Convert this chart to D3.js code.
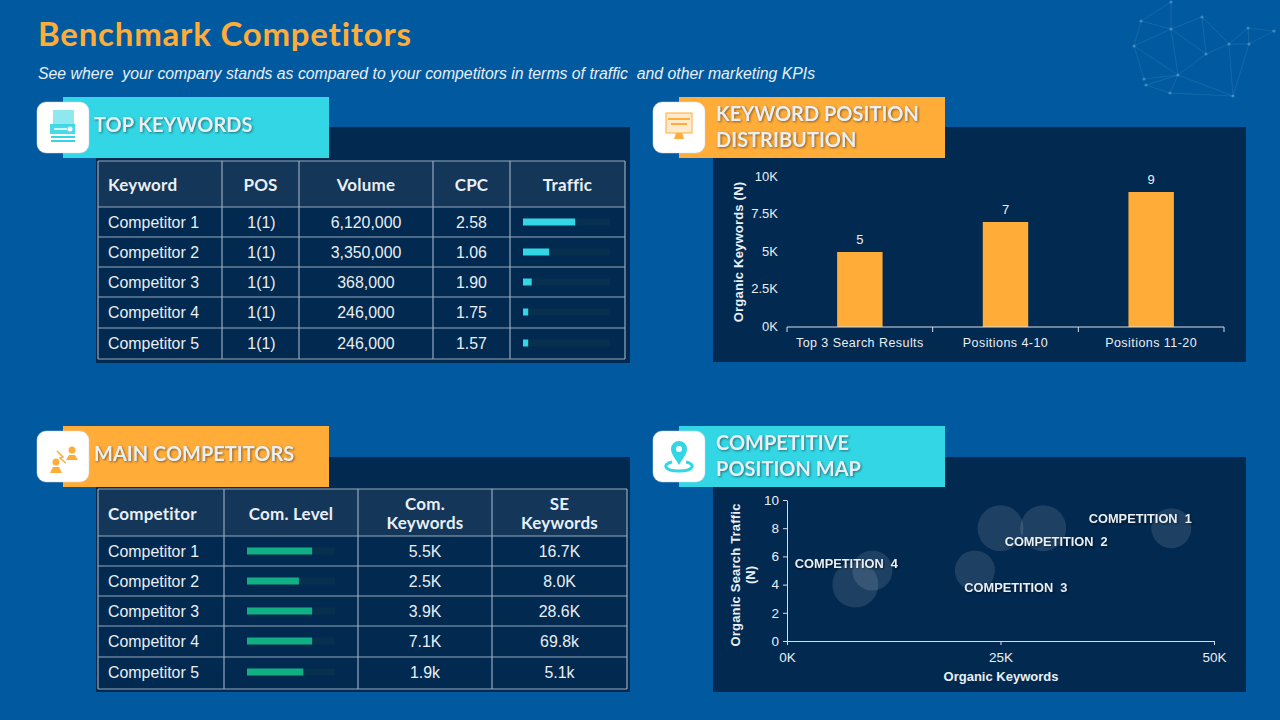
<!DOCTYPE html>
<html>
<head>
<meta charset="utf-8">
<script src="https://d3js.org/d3.v7.min.js"></script>
<style>
  html, body { margin: 0; padding: 0; background: #015a9f; }
  svg { display: block; }
  text { font-family: "Liberation Sans", Arial, sans-serif; fill: #e9eff5; white-space: pre; }
  .geo { font-family: Lato, "Open Sans", sans-serif; font-weight: 700; }
  .head { filter: drop-shadow(1.5px 1.5px 1px rgba(0,0,0,.45)); }
  .axis path, .axis line { stroke: #d5dfe9; }
  .axis text { font-size: 13.5px; }
</style>
</head>
<body>
<svg id="chart" width="1280" height="720"></svg>
<script>
const teal = '#33d6e4', orange = '#ffac38', green = '#10b084';

// top keywords
const keywordHead = ['Keyword', 'POS', 'Volume', 'CPC', 'Traffic'];
const keywordNames = ['Competitor 1', 'Competitor 2', 'Competitor 3', 'Competitor 4', 'Competitor 5'];
const keywordPos = ['1(1)', '1(1)', '1(1)', '1(1)', '1(1)'];
const keywordVolume = ['6,120,000', '3,350,000', '368,000', '246,000', '246,000'];
const keywordCpc = ['2.58', '1.06', '1.90', '1.75', '1.57'];
const keywordTraffic = [60, 30, 10, 6, 6];

// main competitors
const compHead = ['Competitor', 'Com. Level', 'Com.\nKeywords', 'SE\nKeywords'];
const compNames = ['Competitor 1', 'Competitor 2', 'Competitor 3', 'Competitor 4', 'Competitor 5'];
const compLevel = [74, 59, 74, 74, 64];
const compKeywords = ['5.5K', '2.5K', '3.9K', '7.1K', '1.9k'];
const compSe = ['16.7K', '8.0K', '28.6K', '69.8k', '5.1k'];

// keyword position distribution
const posCats = ['Top 3 Search Results', 'Positions 4-10', 'Positions 11-20'];
const posValues = [5000, 7000, 9000];
const posLabels = ['5', '7', '9'];
const posTicks = [0, 2500, 5000, 7500, 10000];
const posTickLabels = ['0K', '2.5K', '5K', '7.5K', '10K'];

// position map
const mapX = [45, 30, 25, 22, 10, 8];
const mapY = [8, 8, 8, 5, 5, 4];
const mapSize = [20, 23, 23, 20, 20, 23];
const mapLabels = ['COMPETITION  1', 'COMPETITION  2', 'COMPETITION  3', 'COMPETITION  4'];
const mapXTicks = [0, 25, 50];
const mapYTicks = [0, 2, 4, 6, 8, 10];

// background decoration
const netNodes = [[1171,2],[1141,21],[1171,29],[1134,46],[1202,17],[1206,54],[1178,75],[1144,79],[1146,85],[1170,93],[1233,96],[1229,44],[1248,28],[1249,44],[1274,31]];
const netLinks = [[0,1],[0,2],[1,3],[1,2],[2,3],[2,4],[2,5],[2,6],[3,6],[3,7],[4,5],[4,11],[5,6],[5,11],[6,7],[6,8],[6,9],[6,10],[8,9],[9,10],[10,11],[10,13],[11,13],[12,13],[12,14],[13,14],[11,12]];

const svg = d3.select('#chart');

svg.append('rect').attr('width', 1280).attr('height', 720).attr('fill', '#015a9f');

let net = svg.append('g');
net.selectAll('line').data(netLinks).enter().append('line')
  .attr('x1', d => netNodes[d[0]][0]).attr('y1', d => netNodes[d[0]][1])
  .attr('x2', d => netNodes[d[1]][0]).attr('y2', d => netNodes[d[1]][1])
  .attr('stroke', '#5ea3d2').attr('stroke-opacity', 0.28).attr('stroke-width', 0.7);
net.selectAll('circle').data(netNodes).enter().append('circle')
  .attr('cx', d => d[0]).attr('cy', d => d[1]).attr('r', 1.6)
  .attr('fill', '#6fb2dd').attr('fill-opacity', 0.5);

svg.append('text').attr('class', 'geo').attr('x', 38).attr('y', 46)
  .attr('font-size', 33).attr('letter-spacing', 0.78).style('fill', orange).text('Benchmark Competitors');
svg.append('text').attr('x', 38).attr('y', 79).attr('font-size', 15.8).attr('font-style', 'italic')
  .text('See where  your company stands as compared to your competitors in terms of traffic  and other marketing KPIs');

// dark panels, drawn first so the ribbons sit on them
[[96, 127, 534, 236], [713, 127, 533, 235], [96, 457, 534, 235], [713, 457, 533, 235]].forEach(p => {
  svg.append('rect').attr('x', p[0]).attr('y', p[1]).attr('width', p[2]).attr('height', p[3]).attr('fill', '#02294f');
});

function ribbon(x, y, color, lines) {
  let g = svg.append('g').attr('transform', 'translate(' + x + ',' + y + ')');
  g.append('rect').attr('x', 26).attr('width', 266).attr('height', 61).attr('fill', color);
  g.append('rect').attr('y', 5).attr('width', 52).attr('height', 51).attr('rx', 9).attr('fill', '#fff')
    .attr('stroke', '#cfd8e0').attr('stroke-width', 0.5);
  let t = g.append('g').attr('class', 'head');
  lines.forEach((l, i) => {
    t.append('text').attr('class', 'geo').attr('x', lines.length == 1 ? 57 : 63)
      .attr('y', lines.length == 1 ? 35 : 23.5 + i * 26)
      .attr('font-size', 20).text(l);
  });
  return g.append('g').attr('transform', 'translate(26,30)').attr('fill', color).attr('stroke', color);
}

// icons
let ic1 = ribbon(37, 97, teal, ['TOP KEYWORDS']);
ic1.append('path').attr('d', 'M-10,-17H11V-1H-10Z').attr('fill-opacity', 0.55).attr('stroke', 'none');
ic1.append('path').attr('d', 'M-13,-3H12V7H-13Z').attr('fill-opacity', 0.9).attr('stroke', 'none');
ic1.append('path').attr('d', 'M-9,2H4').attr('stroke', '#fff').attr('stroke-width', 1.5);
ic1.append('circle').attr('cx', 7).attr('cy', 2).attr('r', 2.5).attr('fill', '#fff').attr('stroke', 'none');
ic1.append('path').attr('d', 'M-12,10H12M-12,14H12').attr('stroke-width', 2);

let ic2 = ribbon(653, 97, orange, ['KEYWORD POSITION', 'DISTRIBUTION']);
ic2.append('rect').attr('x', -13).attr('y', -14).attr('width', 26).attr('height', 20).attr('fill-opacity', 0.25);
ic2.append('path').attr('d', 'M-11,-8H11M-8,-3H8').attr('stroke-width', 2);
ic2.append('path').attr('d', 'M-3,6H3L5,12H-5Z').attr('stroke', 'none');

let ic3 = ribbon(37, 426, orange, ['MAIN COMPETITORS']);
ic3.append('circle').attr('cx', -7).attr('cy', 6).attr('r', 3.5).attr('stroke', 'none');
ic3.append('path').attr('d', 'M-13,17L-10,11H-4L-1,17Z').attr('stroke', 'none');
ic3.append('circle').attr('cx', 9).attr('cy', -6).attr('r', 3.5).attr('stroke', 'none');
ic3.append('path').attr('d', 'M3,4L6,-1H12L15,4Z').attr('stroke', 'none');
ic3.append('path').attr('d', 'M-6,-5L0,1L-3,2L3,7').attr('fill', 'none').attr('stroke-width', 1.5);

let ic4 = ribbon(653, 426, teal, ['COMPETITIVE', 'POSITION MAP']);
ic4.append('path').attr('d', 'M0,9C-4,2 -8,-2 -8,-7A8,8 0 0 1 8,-7C8,-2 4,2 0,9Z M0,-10A3,3 0 1 0 0,-4A3,3 0 1 0 0,-10Z')
  .attr('fill-rule', 'evenodd').attr('stroke', 'none');
ic4.append('path').attr('d', 'M-7,6C-17,8 -15,15 0,15C15,15 17,8 7,6').attr('fill', 'none').attr('stroke-width', 3);

// tables
function drawTable(cols, rows, head, draw) {
  let g = svg.append('g');
  g.append('rect').attr('x', cols[0]).attr('y', rows[0])
    .attr('width', cols[cols.length - 1] - cols[0]).attr('height', rows[1] - rows[0]).attr('fill', '#133659');
  rows.forEach(y => g.append('line').attr('x1', cols[0]).attr('x2', cols[cols.length - 1]).attr('y1', y).attr('y2', y)
    .attr('stroke', '#95a9be').attr('stroke-width', 1.2));
  cols.forEach(x => g.append('line').attr('x1', x).attr('x2', x).attr('y1', rows[0]).attr('y2', rows[rows.length - 1])
    .attr('stroke', '#95a9be').attr('stroke-width', 1.2));
  head.forEach((h, c) => {
    let parts = h.split('\n');
    let cx = c == 0 ? cols[0] + 10 : (cols[c] + cols[c + 1]) / 2;
    parts.forEach((p, i) => {
      g.append('text').attr('class', 'geo').attr('x', cx)
        .attr('y', (rows[0] + rows[1]) / 2 + 7 + (i - (parts.length - 1) / 2) * 19)
        .attr('text-anchor', c == 0 ? 'start' : 'middle').attr('font-size', 17).attr('letter-spacing', 0.2).text(p);
    });
  });
  draw(g);
}

function cellColumn(g, values, x, rows, anchor) {
  g.selectAll(null).data(values).enter().append('text')
    .attr('x', x).attr('y', (d, i) => rows[i + 1] + 20.5)
    .attr('text-anchor', anchor).attr('font-size', 15.9).text(d => d);
}

function barColumn(g, values, scale, x, rows, color) {
  let [x0, x1] = scale.range();
  g.selectAll(null).data(values).enter().append('rect')
    .attr('x', x0 + x).attr('y', (d, i) => rows[i + 1] + 11.5)
    .attr('width', x1 - x0).attr('height', 7).attr('fill', '#07304f');
  g.selectAll(null).data(values).enter().append('rect')
    .attr('x', x0 + x).attr('y', (d, i) => rows[i + 1] + 11.5)
    .attr('width', d => scale(d)).attr('height', 7).attr('fill', color);
}

let kCols = [98, 222, 299, 433, 510, 625];
let kRows = [161, 207, 237, 267, 297, 328, 359];
let trafficScale = d3.scaleLinear().domain([0, 100]).range([0, 87]);
drawTable(kCols, kRows, keywordHead, g => {
  cellColumn(g, keywordNames, 108, kRows, 'start');
  cellColumn(g, keywordPos, 261.5, kRows, 'middle');
  cellColumn(g, keywordVolume, 366, kRows, 'middle');
  cellColumn(g, keywordCpc, 471.5, kRows, 'middle');
  barColumn(g, keywordTraffic, trafficScale, 523, kRows, teal);
});

let cCols = [98, 224, 358, 492, 627];
let cRows = [489, 536, 566, 596, 626, 657, 689];
let levelScale = d3.scaleLinear().domain([0, 100]).range([0, 88]);
drawTable(cCols, cRows, compHead, g => {
  cellColumn(g, compNames, 108, cRows, 'start');
  barColumn(g, compLevel, levelScale, 247, cRows, green);
  cellColumn(g, compKeywords, 425, cRows, 'middle');
  cellColumn(g, compSe, 559.5, cRows, 'middle');
});

// keyword position bars
let xPos = d3.scaleBand().domain(posCats).range([787, 1224]).paddingInner(0).paddingOuter(0);
let yPos = d3.scaleLinear().domain([0, 10000]).range([327, 177]);
let barW = xPos.bandwidth() * 0.312;
let gPos = svg.append('g');
gPos.selectAll('.bar').data(posCats).enter().append('rect').attr('class', 'bar')
  .attr('x', d => xPos(d) + (xPos.bandwidth() - barW) / 2)
  .attr('y', (d, i) => yPos(posValues[i]))
  .attr('width', barW)
  .attr('height', (d, i) => yPos(0) - yPos(posValues[i]))
  .attr('fill', orange);
gPos.selectAll('.val').data(posLabels).enter().append('text').attr('class', 'val')
  .attr('x', (d, i) => xPos(posCats[i]) + xPos.bandwidth() / 2)
  .attr('y', (d, i) => yPos(posValues[i]) - 8)
  .attr('text-anchor', 'middle').attr('font-size', 13).text(d => d);

let xPosAxis = gPos.append('g').attr('class', 'axis').attr('transform', 'translate(0,327)')
  .call(d3.axisBottom(xPos).tickSize(0).tickPadding(9));
xPosAxis.select('.domain').attr('d', 'M787,0H1224');
xPosAxis.selectAll('text').style('font-size', '12.5px').attr('letter-spacing', 0.45).attr('dy', '0.88em');
[0, 1, 2, 3].forEach(i => {
  xPosAxis.append('line').attr('x1', 787 + i * xPos.step()).attr('x2', 787 + i * xPos.step())
    .attr('y1', 0).attr('y2', 5);
});
let yPosAxis = gPos.append('g').attr('class', 'axis').attr('transform', 'translate(778,-1)')
  .call(d3.axisLeft(yPos).tickValues(posTicks).tickSize(0).tickPadding(0)
    .tickFormat((d, i) => posTickLabels[i]));
yPosAxis.select('.domain').remove();
yPosAxis.selectAll('text').style('font-size', '13px');
gPos.append('text').attr('transform', 'translate(743,252) rotate(-90)').attr('text-anchor', 'middle')
  .attr('font-size', 13).attr('font-weight', 700).attr('letter-spacing', 0.2).text('Organic Keywords (N)');

// position map
let xMap = d3.scaleLinear().domain([0, 50]).range([787, 1214]);
let yMap = d3.scaleLinear().domain([0, 10]).range([641, 500]);
let gMap = svg.append('g');
gMap.selectAll('circle').data(mapX).enter().append('circle')
  .attr('cx', d => xMap(d))
  .attr('cy', (d, i) => yMap(mapY[i]))
  .attr('r', (d, i) => mapSize[i])
  .attr('fill', '#dfe9f2').attr('fill-opacity', 0.13);

let xMapAxis = gMap.append('g').attr('class', 'axis').attr('transform', 'translate(0,641)')
  .call(d3.axisBottom(xMap).tickValues(mapXTicks).tickSize(4).tickSizeOuter(0).tickPadding(7).tickFormat(d => d + 'K'));
let yMapAxis = gMap.append('g').attr('class', 'axis').attr('transform', 'translate(787,0)')
  .call(d3.axisLeft(yMap).tickValues(mapYTicks).tickSize(4).tickSizeOuter(0).tickPadding(4));

// each label sits next to its bubble
let labelAt = [[mapX[0], mapY[0], -31, -9], [mapX[1], mapY[1], 13, 14], [mapX[3], mapY[3], 41, 17], [mapX[4], mapY[4], -26, -7]];
gMap.selectAll('.lbl').data(mapLabels).enter().append('text').attr('class', 'lbl head')
  .attr('x', (d, i) => xMap(labelAt[i][0]) + labelAt[i][2])
  .attr('y', (d, i) => yMap(labelAt[i][1]) + labelAt[i][3] + 4)
  .attr('text-anchor', 'middle').attr('font-size', 12.8).attr('font-weight', 700).text(d => d);

gMap.append('text').attr('transform', 'translate(740,575) rotate(-90)').attr('text-anchor', 'middle')
  .attr('font-size', 13).attr('font-weight', 700).attr('letter-spacing', 0.2).text('Organic Search Traffic');
gMap.append('text').attr('transform', 'translate(755,575) rotate(-90)').attr('text-anchor', 'middle')
  .attr('font-size', 13).attr('font-weight', 700).text('(N)');
gMap.append('text').attr('x', 1001).attr('y', 681).attr('text-anchor', 'middle')
  .attr('font-size', 13).attr('font-weight', 700).text('Organic Keywords');
</script>
</body>
</html>
